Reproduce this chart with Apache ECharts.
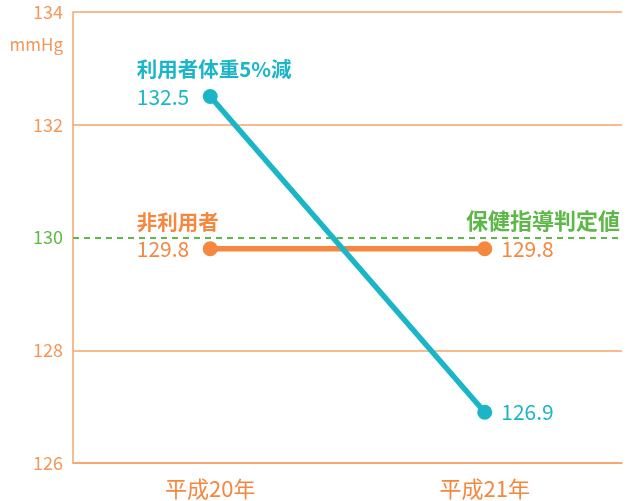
<!DOCTYPE html>
<html><head><meta charset="utf-8">
<script src="https://cdn.jsdelivr.net/npm/echarts@6/dist/echarts.min.js"></script>
<style>html,body{margin:0;padding:0;background:#fff}#c{width:628px;height:501px}</style>
</head><body><div id="c"></div>
<script>
var categories = ['平成20年', '平成21年'];
var userValues = [132.5, 126.9];
var nonUserValues = [129.8, 129.8];
var userName = '利用者体重5%減';
var nonUserName = '非利用者';
var thresholdValue = 130;
var thresholdName = '保健指導判定値';
var yTicks = [126, 128, 130, 132, 134];
var unit = 'mmHg';

var ORANGE = '#F5873F', TEAL = '#1AB6C8', GREEN = '#5DB847', GRID = '#F6A36A', LBL = '#F3975A';
var FONT = '"Noto Sans CJK JP", "Noto Sans", sans-serif';

function firstLabel(name, color) {
  return {
    show: true, position: [-66, -33], align: 'left', verticalAlign: 'top',
    formatter: function (p) { return '{t|' + name + '}\n{v|' + p.value + '}'; },
    rich: {
      t: { fontFamily: FONT, fontSize: 20.5, fontWeight: 'bold', color: color, lineHeight: 27 },
      v: { fontFamily: FONT, fontSize: 21, color: color, lineHeight: 27 }
    }
  };
}
function endLabel(color) {
  return { show: true, position: 'right', distance: 9, fontFamily: FONT, fontSize: 21, color: color };
}

var chart = echarts.init(document.getElementById('c'));
chart.setOption({
  animation: false,
  grid: { left: 73, right: 6, top: 12, bottom: 38 },
  xAxis: {
    type: 'category', data: categories, boundaryGap: true,
    axisLine: { lineStyle: { color: GRID, width: 1.5 } },
    axisTick: { inside: true, length: 9, lineStyle: { color: GRID, width: 1.5 } },
    axisLabel: { margin: 15, fontFamily: FONT, fontSize: 22, color: ORANGE }
  },
  yAxis: {
    type: 'value', min: yTicks[0], max: yTicks[yTicks.length - 1], interval: 2,
    name: unit, nameLocation: 'end', nameGap: -33,
    nameTextStyle: { align: 'right', verticalAlign: 'middle', padding: [0, 10, 0, 0], fontFamily: FONT, fontSize: 17, color: LBL },
    axisLine: { show: true, lineStyle: { color: GRID, width: 1.5 } },
    axisTick: { show: false },
    splitLine: { lineStyle: { color: [GRID, GRID, 'rgba(0,0,0,0)', GRID, GRID], width: 1.5 } },
    axisLabel: {
      margin: 10, fontFamily: FONT, fontSize: 18,
      color: function (v) { return Number(v) === thresholdValue ? GREEN : LBL; }
    }
  },
  series: [
    {
      type: 'line', name: nonUserName, z: 2,
      data: nonUserValues.map(function (v, i) {
        return { value: v, label: i === 0 ? firstLabel(nonUserName, ORANGE) : endLabel(ORANGE) };
      }),
      symbol: 'circle', symbolSize: 15,
      lineStyle: { color: ORANGE, width: 5.5 }, itemStyle: { color: ORANGE },
      markLine: {
        silent: true, symbol: 'none', z: 1,
        data: [{ yAxis: thresholdValue }],
        lineStyle: { color: GREEN, type: [6, 5], width: 2 },
        label: { show: true, position: 'insideEndTop', distance: [2, 6], formatter: thresholdName,
          fontFamily: FONT, fontSize: 22, fontWeight: 'bold', color: GREEN }
      }
    },
    {
      type: 'line', name: userName, z: 3,
      data: userValues.map(function (v, i) {
        return { value: v, label: i === 0 ? firstLabel(userName, TEAL) : endLabel(TEAL) };
      }),
      symbol: 'circle', symbolSize: 15,
      lineStyle: { color: TEAL, width: 5.5 }, itemStyle: { color: TEAL }
    }
  ]
});
</script></body></html>
